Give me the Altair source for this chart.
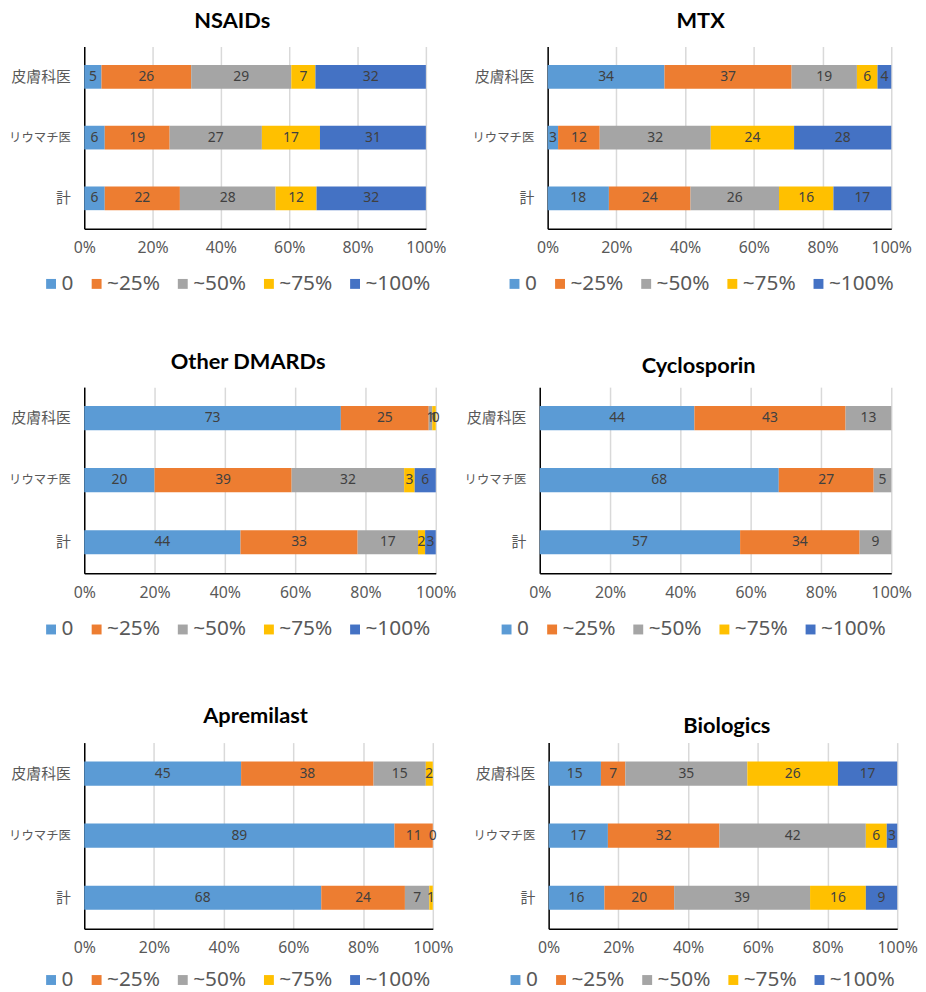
import altair as alt
import pandas as pd

series = ["0", "~25%", "~50%", "~75%", "~100%"]
colors = ["#5B9BD5", "#ED7D31", "#A5A5A5", "#FFC000", "#4472C4"]
groups = ["皮膚科医", "リウマチ医", "計"]

# values per group: 皮膚科医, リウマチ医, 計 (series order: 0, ~25%, ~50%, ~75%, ~100%)
nsaids = [[5, 26, 29, 7, 32], [6, 19, 27, 17, 31], [6, 22, 28, 12, 32]]
mtx = [[34, 37, 19, 6, 4], [3, 12, 32, 24, 28], [18, 24, 26, 16, 17]]
other_dmards = [[73, 25, 1, 1, 0], [20, 39, 32, 3, 6], [44, 33, 17, 2, 3]]
cyclosporin = [[44, 43, 13, None, None], [68, 27, 5, None, None], [57, 34, 9, None, None]]
apremilast = [[45, 38, 15, 2, None], [89, 11, 0, None, None], [68, 24, 7, 1, None]]
biologics = [[15, 7, 35, 26, 17], [17, 32, 42, 6, 3], [16, 20, 39, 16, 9]]


def make_df(values):
    rows = []
    for g, vals in zip(groups, values):
        for i, (s, v) in enumerate(zip(series, vals)):
            if v is None:
                continue
            rows.append({"group": g, "series": s, "order": i, "value": v})
    return pd.DataFrame(rows)


def panel(name, values, width, height, title_dx, title_offset, legend_gap):
    df = make_df(values)
    base = alt.Chart(df).transform_stack(
        as_=["v0", "v1"], stack="value", groupby=["group"],
        offset="normalize", sort=[alt.SortField("order", order="ascending")]
    ).transform_calculate(mid="(datum.v0 + datum.v1) / 2")

    y = alt.Y(
        "group:N", sort=groups, title=None,
        scale=alt.Scale(paddingInner=0.61, paddingOuter=0.305),
        axis=alt.Axis(
            labelFont="Noto Sans CJK JP",
            labelFontSize=alt.condition("datum.value == 'リウマチ医'", alt.value(12.5), alt.value(15)),
            labelColor="#595959", labelPadding=14, ticks=False,
            domainColor="#000000", domainWidth=1.5, grid=False,
        ),
    )
    bars = base.mark_bar().encode(
        x=alt.X(
            "v0:Q", scale=alt.Scale(domain=[0, 1], nice=False), title=None,
            axis=alt.Axis(
                values=[0, 0.2, 0.4, 0.6, 0.8, 1.0], format=".0%",
                labelFont="Noto Sans", labelFontSize=16, labelColor="#595959",
                labelPadding=11, labelFlush=False, ticks=False, grid=True,
                gridColor="#D9D9D9", gridWidth=1.5,
                domainColor="#000000", domainWidth=1.5,
            ),
        ),
        x2="v1:Q",
        y=y,
        color=alt.Color(
            "series:N", scale=alt.Scale(domain=series, range=colors),
            legend=alt.Legend(
                orient="none", legendX=-44, legendY=height + legend_gap,
                direction="horizontal", columns=5, title=None,
                symbolType="square", symbolSize=100, symbolStrokeWidth=0,
                labelFont="Noto Sans", labelFontSize=21, labelColor="#595959",
                labelOffset=0, columnPadding=12,
            ),
        ),
    )
    text = base.mark_text(font="Noto Sans", fontSize=14, color="#404040").encode(
        x="mid:Q", y=alt.Y("group:N", sort=groups), text="value:Q"
    )
    return alt.layer(bars, text).properties(
        width=width, height=height,
        title=alt.TitleParams(
            name, font="Lato", fontSize=22, fontWeight="bold", color="#000000",
            anchor="middle", frame="group", dx=title_dx, offset=title_offset,
        ),
    )


row1 = alt.hconcat(
    panel("NSAIDs", nsaids, 345, 184, -23, 14, 45),
    panel("MTX", mtx, 347, 184, -19, 14, 45),
    spacing=25,
).resolve_scale(color="independent")
row2 = alt.hconcat(
    panel("Other DMARDs", other_dmards, 355, 188, -12, 13, 46),
    panel("Cyclosporin", cyclosporin, 355, 188, -17, 9, 46),
    spacing=7,
).resolve_scale(color="independent")
row3 = alt.hconcat(
    panel("Apremilast", apremilast, 352, 188, -3, 15, 41),
    panel("Biologics", biologics, 352, 188, 4, 5, 41),
    spacing=19,
).resolve_scale(color="independent")

top = alt.vconcat(row1, row2, spacing=58).resolve_scale(color="independent")
chart = alt.vconcat(top, row3, spacing=66).resolve_scale(
    color="independent"
).properties(padding={"top": -3, "left": 0, "right": 0, "bottom": 0}).configure_view(stroke=None)

chart.save("out.html", embed_options={"renderer": "svg", "actions": False})
